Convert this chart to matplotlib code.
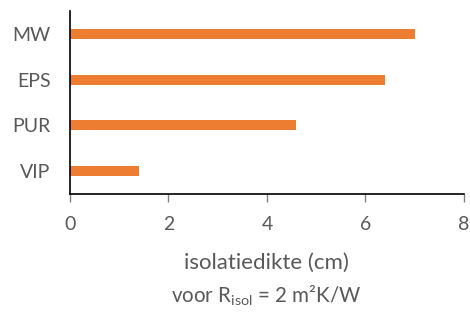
import matplotlib
matplotlib.use("Agg")
import matplotlib.pyplot as plt

categories = ["MW", "EPS", "PUR", "VIP"]
values = [7.0, 6.4, 4.6, 1.4]
xticks = [0, 2, 4, 6, 8]

plt.rcParams['font.family'] = ['Lato', 'DejaVu Sans']
plt.rcParams['mathtext.fontset'] = 'custom'
plt.rcParams['mathtext.rm'] = 'Lato'
plt.rcParams['mathtext.it'] = 'Lato'

txt = '#595959'
fig = plt.figure(figsize=(4.7, 3.16), dpi=100)
ax = fig.add_axes([0.149, 0.386, 0.838, 0.579])

ypos = list(range(len(categories)))[::-1]
ax.barh(ypos, values, height=0.22, color='#ED7D31')
ax.set_ylim(-0.5, len(categories) - 0.5)
ax.set_yticks(ypos)
ax.set_yticklabels(categories, fontsize=14, color=txt)
ax.set_xlim(0, 8)
ax.set_xticks(xticks)
ax.set_xticklabels([str(t) for t in xticks], fontsize=14, color=txt)
ax.tick_params(axis='y', length=0, pad=14)
ax.tick_params(axis='x', length=6, width=1, color='#808080', pad=9.5)
for s in ['top', 'right']:
    ax.spines[s].set_visible(False)
for s in ['left', 'bottom']:
    ax.spines[s].set_color('black')
    ax.spines[s].set_linewidth(1.2)

fig.text(0.567, 1 - 263/316, 'isolatiedikte (cm)', ha='center', va='center', fontsize=16, color=txt)
fig.text(0.567, 1 - 296/316, r'voor R$_{\mathrm{isol}}$ = 2 m²K/W', ha='center', va='center', fontsize=14.8, color=txt)

fig.savefig('out.png', dpi=100)
